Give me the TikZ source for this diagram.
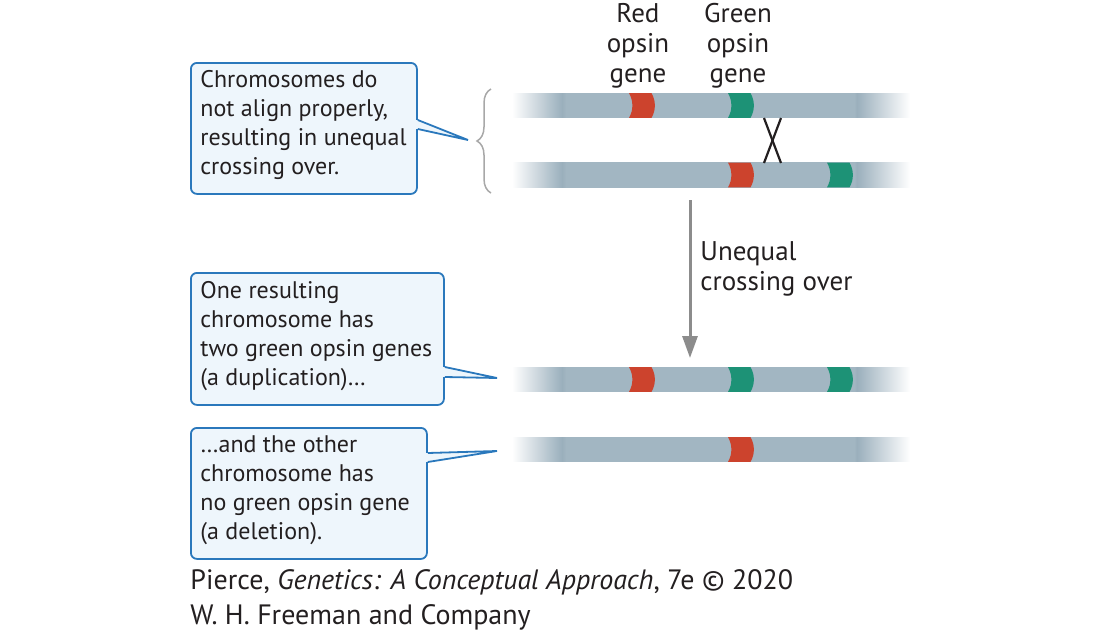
\documentclass[tikz,border=0pt]{standalone}
\usepackage{fontspec}
\setmainfont{PT Sans}
\usepackage{tikz}
\usetikzlibrary{positioning}
\usetikzlibrary{arrows.meta}
\usetikzlibrary{decorations.pathreplacing}

\definecolor{callblue}{HTML}{2A78BC}
\definecolor{callfill}{HTML}{EEF6FC}
\definecolor{chromcol}{HTML}{A2B6C2}
\definecolor{chromdark}{HTML}{9AAFBC}
\definecolor{redgene}{HTML}{CC432D}
\definecolor{greengene}{HTML}{1D9276}
\definecolor{arrowgray}{HTML}{8C8C8C}
\definecolor{bracegray}{HTML}{A8A8A8}
\definecolor{inktext}{HTML}{231F20}

\pgfdeclarehorizontalshading{chromshade}{100bp}{color(0bp)=(white); color(25bp)=(white); color(31.3bp)=(chromdark); color(31.8bp)=(chromcol); color(68bp)=(chromcol); color(68.3bp)=(chromdark); color(75bp)=(white); color(100bp)=(white)}

\begin{document}
\begin{tikzpicture}[x=0.5pt, y=-0.5pt,
	callbox/.style={draw=callblue, fill=callfill, line width=0.9pt, rounded corners=3pt, anchor=north west, inner sep=0pt},
	calltext/.style={align=left, inner sep=0pt, anchor=west, text=inktext, font=\fontsize{12}{14.5}\selectfont},
	genelabel/.style={align=center, inner sep=0pt, text=inktext, font=\fontsize{13.5}{15}\selectfont},
	tail/.style={draw=callblue, line width=0.9pt, line join=miter}]

	\useasboundingbox (0,0) rectangle (1100,638);

	% Callout boxes %
	\node[callbox, minimum width=113pt, minimum height=65.5pt] (box1) at (190,62) {};
	\node[callbox, minimum width=126.5pt, minimum height=66pt] (box2) at (190,272) {};
	\node[callbox, minimum width=118pt, minimum height=65.5pt] (box3) at (190,427) {};
	% Tails %
	\coordinate (tip1) at (468,140);
	\coordinate (tip2) at (497,378);
	\coordinate (tip3) at (497,451);
	\foreach \b/\t/\ya/\yb in {box1/tip1/120/129, box2/tip2/367/377, box3/tip3/453/462} {
		\fill[callfill] ([xshift=-2pt]\b.east |- 0,\ya) rectangle (\b.east |- 0,\yb);
		\fill[callfill] (\b.east |- 0,\ya) -- (\t) -- (\b.east |- 0,\yb) -- cycle;
		\draw[tail] (\b.east |- 0,\ya) -- (\t) -- (\b.east |- 0,\yb);
	}
	% Callout texts %
	\node[calltext] (text1) at (200,125) {Chromosomes do\\not align properly,\\resulting in unequal\\crossing over.};
	\node[calltext] (text2) at (200,336) {One resulting\\chromosome has\\two green opsin genes\\(a duplication)\dots};
	\node[calltext] (text3) at (200,490) {\dots and the other\\chromosome has\\no green opsin gene\\(a deletion).};

	% Brace %
	\draw[bracegray, line width=0.75pt, decorate, decoration={brace, amplitude=7pt}] (491,193) -- (491,89);

	% Chromosomes %
	\foreach \y in {105.5, 175, 379.5, 449.5}
		\shade[shading=chromshade] (512,\y-12.3) rectangle (910,\y+12.3);

	% Genes %
	\foreach \x/\y/\c in {629/105.5/redgene, 728/105.5/greengene, 728/175/redgene, 827/175/greengene, 629/379.5/redgene, 728/379.5/greengene, 827/379.5/greengene, 728/449.5/redgene}
		\fill[\c] (\x,\y-12.3) .. controls (\x+4.5,\y-5) and (\x+4.5,\y+5) .. (\x,\y+12.3) -- (\x+22.5,\y+12.3) .. controls (\x+27,\y+5) and (\x+27,\y-5) .. (\x+22.5,\y-12.3) -- cycle;

	% Gene labels %
	\node[genelabel] (redlbl) at (638,46) {Red\\opsin\\gene};
	\node[genelabel] (greenlbl) at (738,46) {Green\\opsin\\gene};

	% Crossing over %
	\draw[inktext, line width=1.1pt] (764,118) -- (781,163);
	\draw[inktext, line width=1.1pt] (781,118) -- (764,163);

	% Arrow %
	\coordinate (arrtop) at (690,200);
	\coordinate (arrbot) at (690,358);
	\draw[arrowgray, line width=1.5pt, -{Triangle[width=7.5pt, length=11pt]}] (arrtop) -- (arrbot);
	\node[calltext, font=\fontsize{13.5}{15}\selectfont] (arrlbl) at (700,269) {Unequal\\crossing over};

	% Credit %
	\node[anchor=west, align=left, inner sep=0pt, text=inktext, font=\fontsize{14}{17.5}\selectfont] (credit) at (190,600) {Pierce, \textit{Genetics: A Conceptual Approach}, 7e \textcopyright{} 2020\\W. H. Freeman and Company};
\end{tikzpicture}
\end{document}
